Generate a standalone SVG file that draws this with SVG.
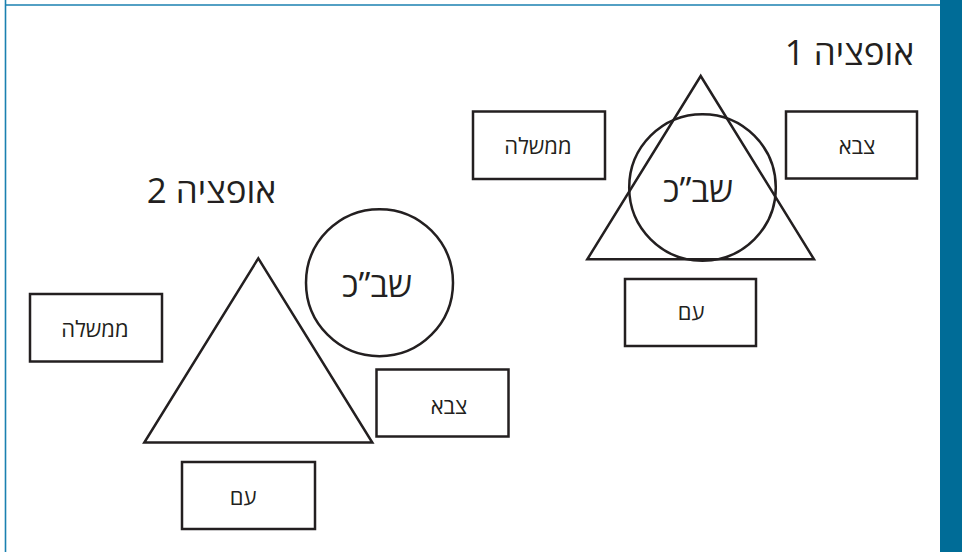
<svg xmlns="http://www.w3.org/2000/svg" width="962" height="552" viewBox="0 0 962 552">
<style>
.shape{fill:none;stroke:#231f20;stroke-width:2.5}
.box{fill:#fff;stroke:#231f20;stroke-width:2.5}
.lbl{font-family:"Open Sans","Liberation Sans",sans-serif;font-size:22px;fill:#231f20;text-anchor:middle;dominant-baseline:central}
.big{font-size:34px}
.title{font-family:"Open Sans","Liberation Sans",sans-serif;font-size:35px;fill:#231f20;text-anchor:end}
</style>
<rect width="962" height="552" fill="#fff"/>
<g id="frame">
<line x1="5.5" y1="0" x2="5.5" y2="552" stroke="#1a80b0" stroke-width="1.6"/>
<line x1="5" y1="5" x2="940" y2="5" stroke="#1a80b0" stroke-width="1.6"/>
<rect x="940" y="0" width="22" height="552" fill="#006c97"/>
</g>
<g id="connectors"></g>
<g id="option1">
<text id="title1" class="title" x="914" y="65">אופציה 1</text>
<g id="o1-triangle"><polygon class="shape" points="700.7,76 587.3,259.3 814,259.3"/></g>
<g id="o1-shabak"><circle class="shape" cx="702.5" cy="187.5" r="73.3"/><text class="lbl big" x="698" y="189">שב”כ</text></g>
<g id="o1-government"><rect class="box" x="473" y="111.5" width="132" height="67.5"/><text class="lbl" x="538" y="145">ממשלה</text></g>
<g id="o1-army"><rect class="box" x="786" y="111.5" width="131" height="67"/><text class="lbl" x="857" y="145">צבא</text></g>
<g id="o1-people"><rect class="box" x="625" y="279" width="131" height="67"/><text class="lbl" x="691" y="311">עם</text></g>
</g>
<g id="option2">
<text id="title2" class="title" x="276" y="203">אופציה 2</text>
<g id="o2-triangle"><polygon class="shape" points="258.3,258.3 144.3,442.5 372.3,442.5"/></g>
<g id="o2-shabak"><circle class="shape" cx="379.5" cy="282.7" r="73.5"/><text class="lbl big" x="377" y="284">שב”כ</text></g>
<g id="o2-government"><rect class="box" x="30" y="294" width="132" height="67.5"/><text class="lbl" x="95" y="328">ממשלה</text></g>
<g id="o2-army"><rect class="box" x="376.5" y="369.5" width="132" height="67"/><text class="lbl" x="449" y="405">צבא</text></g>
<g id="o2-people"><rect class="box" x="182" y="462" width="133" height="67"/><text class="lbl" x="243" y="496">עם</text></g>
</g>
</svg>
